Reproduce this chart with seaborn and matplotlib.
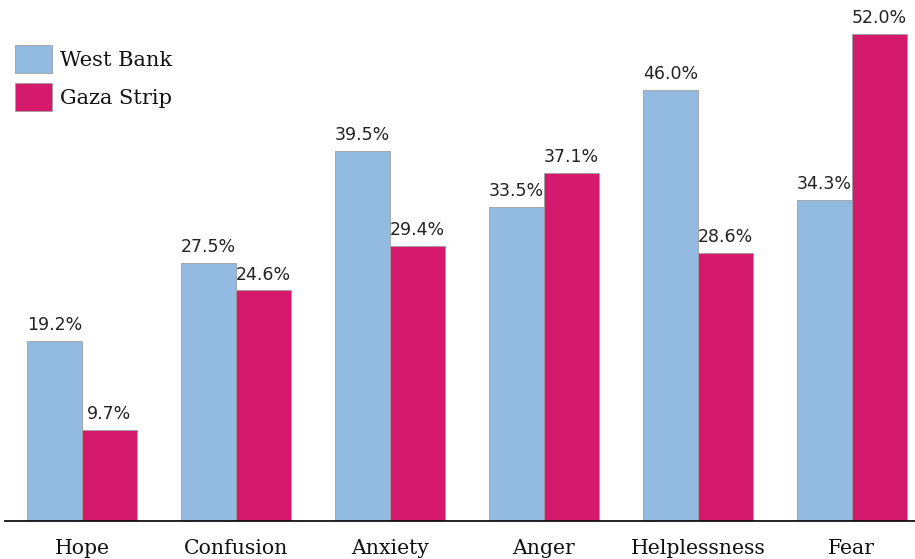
import matplotlib
matplotlib.use("Agg")
import matplotlib.pyplot as plt
import seaborn as sns
import pandas as pd

categories = ["Hope", "Confusion", "Anxiety", "Anger", "Helplessness", "Fear"]
west_bank = [19.2, 27.5, 39.5, 33.5, 46.0, 34.3]
gaza_strip = [9.7, 24.6, 29.4, 37.1, 28.6, 52.0]
series = ["West Bank", "Gaza Strip"]
colors = ["#93bbe1", "#d5196c"]

df = pd.DataFrame({
    "category": categories * 2,
    "value": west_bank + gaza_strip,
    "region": [series[0]] * len(categories) + [series[1]] * len(categories),
})

sns.set_theme(style="white")
plt.rcParams["font.family"] = ["DejaVu Sans"]

fig = plt.figure(figsize=(9.15, 5.59), dpi=100)
ax = fig.add_axes([5 / 915, 38 / 559, 910 / 915, 521 / 559])

sns.barplot(data=df, x="category", y="value", hue="region", order=categories,
            hue_order=series, palette=colors, width=0.714, dodge=True,
            saturation=1, edgecolor="#a0a0a0", linewidth=0.6, ax=ax, gap=0)

for cont in ax.containers:
    ax.bar_label(cont, fmt="%.1f%%", padding=5, fontsize=12.5, color="#222222",
                 family="DejaVu Sans")

ax.set_xlim(-0.5, 5.41)
ax.set_ylim(0, 55.6)
ax.set_xlabel("")
ax.set_ylabel("")
ax.set_yticks([])
for s in ["top", "right", "left"]:
    ax.spines[s].set_visible(False)
ax.spines["bottom"].set_color("#111111")
ax.spines["bottom"].set_linewidth(1.3)
ax.tick_params(axis="x", length=0, pad=13, labelsize=14.7)
for lbl in ax.get_xticklabels():
    lbl.set_family("DejaVu Serif")
    lbl.set_color("#111111")

leg = ax.legend(loc="upper left", bbox_to_anchor=(15 / 915, 1 - 45 / 559),
                bbox_transform=fig.transFigure, frameon=False,
                prop={"family": "DejaVu Serif", "size": 15},
                handlelength=1.78, handleheight=1.69, labelspacing=0.48,
                handletextpad=0.38, borderaxespad=0, borderpad=0)
for t in leg.get_texts():
    t.set_color("#111111")

fig.savefig("out.png", dpi=100)
